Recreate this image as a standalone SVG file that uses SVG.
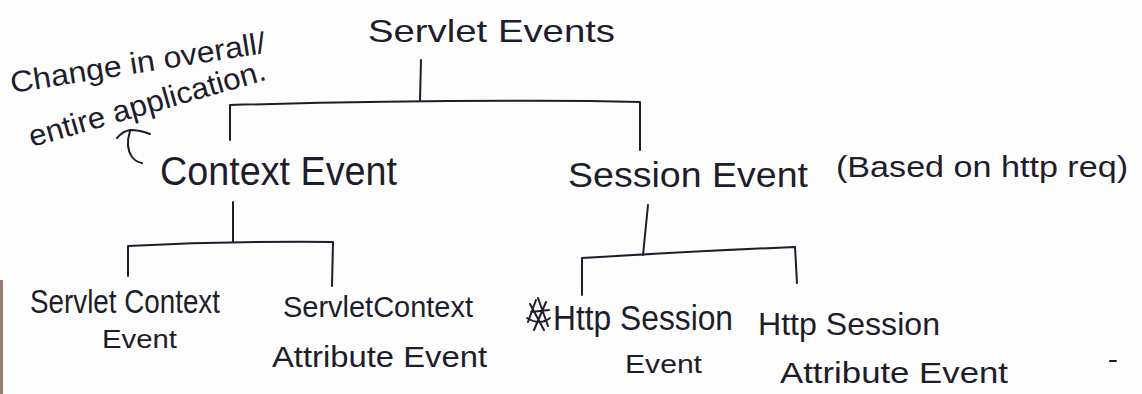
<svg xmlns="http://www.w3.org/2000/svg" width="1142" height="394" viewBox="0 0 1142 394">
  <style>
    .ink { font-family: "Liberation Sans", Arial, sans-serif; fill: #1d1d2c; }
    .line { fill: none; stroke: #1d1d2c; stroke-width: 2; stroke-linecap: round; stroke-linejoin: round; }
  </style>

  <!-- paper -->
  <rect x="0" y="0" width="1142" height="394" fill="#fdfdfd"/>
  <rect x="0" y="280" width="3" height="114" fill="#7a5a4c" opacity="0.8"/>

  <!-- root -->
  <g id="servlet-events">
    <text class="ink" x="368" y="42" font-size="32" textLength="247" lengthAdjust="spacingAndGlyphs">Servlet Events</text>
  </g>

  <!-- side note on context events -->
  <g id="note">
    <text class="ink" x="12" y="93" font-size="30" transform="rotate(-9 12 93)" textLength="258" lengthAdjust="spacingAndGlyphs">Change in overall/</text>
    <text class="ink" x="32" y="147" font-size="30" transform="rotate(-16 32 147)" textLength="245" lengthAdjust="spacingAndGlyphs">entire application.</text>
    <path class="line" d="M117,138 Q123,131 130,130 Q140,130 150,134 M130,131 Q125,147 132,157 Q136,162 142,163"/>
  </g>

  <g id="context-event">
    <text class="ink" x="160" y="185" font-size="40" textLength="237" lengthAdjust="spacingAndGlyphs">Context Event</text>
  </g>

  <g id="session-event">
    <text class="ink" x="568" y="187" font-size="35" textLength="240" lengthAdjust="spacingAndGlyphs">Session Event</text>
    <text class="ink" x="836" y="177" font-size="30" textLength="292" lengthAdjust="spacingAndGlyphs">(Based on http req)</text>
  </g>

  <g id="servlet-context-event">
    <text class="ink" x="30" y="313" font-size="34" textLength="190" lengthAdjust="spacingAndGlyphs">Servlet Context</text>
    <text class="ink" x="102" y="348" font-size="26" textLength="75" lengthAdjust="spacingAndGlyphs">Event</text>
  </g>

  <g id="servlet-context-attribute-event">
    <text class="ink" x="283" y="317" font-size="30" textLength="190" lengthAdjust="spacingAndGlyphs">ServletContext</text>
    <text class="ink" x="272" y="367" font-size="30" textLength="215" lengthAdjust="spacingAndGlyphs">Attribute Event</text>
  </g>

  <g id="http-session-event">
    <!-- crossed-out letters before "Http" -->
    <path class="line" stroke-width="1.6" d="M528,322 L536,300 M531,312 L549,310 M534,330 L546,302 M527,318 Q540,326 550,318 M530,304 L544,330 M538,298 L548,326"/>
    <text class="ink" x="553" y="330" font-size="35" textLength="180" lengthAdjust="spacingAndGlyphs">Http Session</text>
    <text class="ink" x="625" y="373" font-size="26" textLength="77" lengthAdjust="spacingAndGlyphs">Event</text>
  </g>

  <g id="http-session-attribute-event">
    <text class="ink" x="758" y="335" font-size="32" textLength="182" lengthAdjust="spacingAndGlyphs">Http Session</text>
    <text class="ink" x="780" y="383" font-size="30" textLength="228" lengthAdjust="spacingAndGlyphs">Attribute Event</text>
  </g>

  <!-- tree connectors -->
  <g id="connectors">
    <path class="line" d="M421,60 L420,100"/>
    <path class="line" d="M230,140 L230,105 Q420,100 590,101 L640,102 L640,150"/>

    <path class="line" d="M233,202 L233,242"/>
    <path class="line" d="M128,276 L128,246 Q230,241 333,242 L332,286"/>

    <path class="line" d="M648,205 L643,255"/>
    <path class="line" d="M582,295 L582,258 Q700,251 795,247 L797,283"/>
  </g>

  <!-- stray pen mark -->
  <path class="line" stroke-width="1.5" d="M1110,361 L1116,361"/>
</svg>
